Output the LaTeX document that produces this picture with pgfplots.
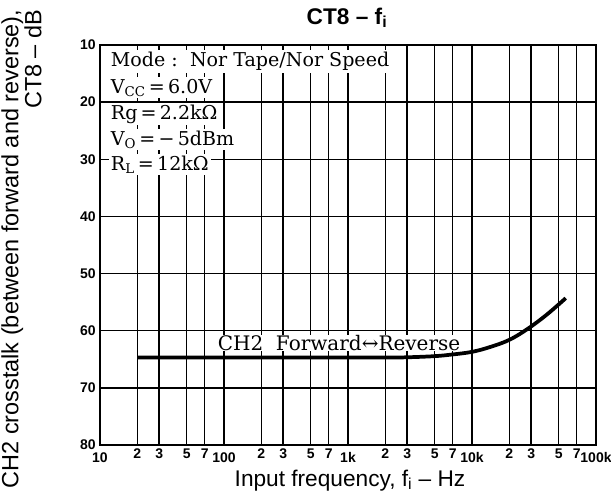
\documentclass[border=0pt]{standalone}
\usepackage{pgfplots}
\pgfplotsset{compat=1.18}
\usepackage{fontspec}
\setmainfont{Liberation Sans}
\newfontfamily\serif{DejaVu Serif}
\newcommand{\mj}[1]{\raisebox{0pt}[10.5pt][0pt]{#1}}
\newcommand{\mn}[1]{\raisebox{0pt}[7.3pt][0pt]{#1}}
\begin{document}
\begin{tikzpicture}
\useasboundingbox (-75pt,-35.25pt) rectangle (383.25pt,333.75pt);
\begin{axis}[
  scale only axis, width=372pt, height=300pt,
  xmode=log, xmin=10, xmax=100000,
  ymin=10, ymax=80, y dir=reverse,
  xtick={10,20,30,50,70,100,200,300,500,700,1000,2000,3000,5000,7000,10000,20000,30000,50000,70000,100000},
  xticklabels={\mj{10},\mn{2},\mn{3},\mn{5},\mn{7},\mj{100},\mn{2},\mn{3},\mn{5},\mn{7},\mj{1k},\mn{2},\mn{3},\mn{5},\mn{7},\mj{10k},\mn{2},\mn{3},\mn{5},\mn{7},\mj{100k}},
  ytick={10,20,30,40,50,60,70,80},
  grid=major,
  major grid style={black, line width=1.05pt},
  axis line style={black, line width=1.5pt},
  major tick length=0pt,
  tick label style={font=\fontsize{10.5}{10.5}\selectfont\bfseries},
  /pgf/number format/assume math mode=true,
  xticklabel style={anchor=north, inner sep=1pt, yshift=-1.5pt},
  yticklabel style={anchor=east, inner sep=2pt, xshift=-1pt},
  title={\fontsize{17}{17}\selectfont\bfseries CT8 – f\textsubscript{i}},
  title style={at={(axis description cs:0.498,1)}, anchor=base, yshift=9.75pt},
  xlabel={\fontsize{17}{17}\selectfont Input frequency, f\textsubscript{i} – Hz},
  xlabel style={at={(axis description cs:0.504,0)}, anchor=base, yshift=-30.75pt},
  ylabel={CH2 crosstalk (between forward and reverse),\\CT8 – dB},
  ylabel style={font=\fontsize{17.6}{15.75}\selectfont, align=right, at={(axis description cs:-0.1583,1.1)}, anchor=east},
]
\addplot[black, line width=2.8pt, smooth, tension=0.6] coordinates {
  (20,64.7) (100,64.7) (1000,64.7) (2000,64.7)
  (3000,64.65) (5000,64.45) (7000,64.15) (10000,63.7) (14000,62.85)
  (20000,61.6) (28000,59.7) (40000,57.2) (57000,54.3)
};
\begin{scope}[every node/.style={font=\serif\fontsize{14.3}{14.3}\selectfont, fill=white, inner sep=1.5pt, anchor=base west}]
\node at ([xshift=6.5pt,yshift=-16.3pt]axis description cs:0,1) {Mode :\ \ Nor Tape/Nor Speed};
\node at ([xshift=6.5pt,yshift=-36pt]axis description cs:0,1) {V\textsubscript{CC}\,=\,6.0V};
\node at ([xshift=6.5pt,yshift=-55.5pt]axis description cs:0,1) {Rg\,=\,2.2kΩ};
\node at ([xshift=6.5pt,yshift=-75pt]axis description cs:0,1) {V\textsubscript{O}\,=\,−\,5dBm};
\node at ([xshift=6.5pt,yshift=-93.8pt]axis description cs:0,1) {R\textsubscript{L}\,=\,12kΩ};
\node[anchor=base, inner sep=0.3pt, font=\serif\fontsize{15}{15}\selectfont] at ([xshift=179.25pt,yshift=71pt]axis description cs:0,0) {CH2\ \ Forward↔Reverse};
\end{scope}
\end{axis}
\end{tikzpicture}
\end{document}
